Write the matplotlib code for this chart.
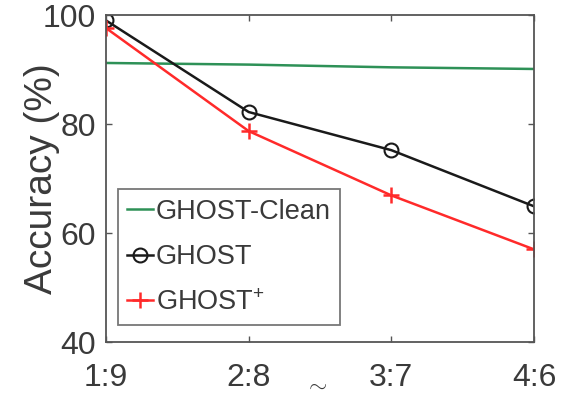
import matplotlib.pyplot as plt

plt.rcParams['font.family'] = ['Liberation Sans', 'DejaVu Sans']
plt.rcParams['mathtext.fontset'] = 'custom'
plt.rcParams['mathtext.rm'] = 'Liberation Sans'

ratios = ['1:9', '2:8', '3:7', '4:6']
ghost_clean = [91.2, 90.9, 90.4, 90.1]
ghost = [99.0, 82.2, 75.2, 64.9]
ghost_plus = [97.6, 78.7, 66.9, 57.0]

text_color = '#3a3a3a'

fig = plt.figure(figsize=(5.8, 3.97), dpi=100)
ax = fig.add_axes([0.1828, 0.1385, 0.7379, 0.8237])

x = range(len(ratios))
ax.plot(x, ghost_clean, color='#2e9157', lw=1.8, label='GHOST-Clean')
ax.plot(x, ghost, color='#1a1a1a', lw=1.8, marker='o', ms=10, mfc='none',
        mew=1.5, label='GHOST')
ax.plot(x, ghost_plus, color='#ff2a2a', lw=1.8, marker='+', ms=12,
        mew=1.8, label='GHOST$^{+}$')

ax.set_xlim(0, 3)
ax.set_ylim(40, 100)
ax.set_xticks(list(x))
ax.set_xticklabels(ratios)
ax.set_yticks([40, 60, 80, 100])
ax.tick_params(direction='in', top=True, right=True, length=4, width=1,
               colors='#555555', labelcolor=text_color, labelsize=23)
ax.tick_params(axis='x', pad=15)
ax.tick_params(axis='y', pad=7)
for s in ax.spines.values():
    s.set_color('#555555')
    s.set_linewidth(1.3)

ax.set_ylabel('Accuracy (%)', fontsize=28, color=text_color, labelpad=-12)

leg = ax.legend(loc='lower left', bbox_to_anchor=(0.028, 0.052), borderaxespad=0,
                fontsize=19.5, handlelength=0.95, handletextpad=0.1,
                borderpad=0.35, labelspacing=0.72, fancybox=False,
                frameon=True)
leg.get_frame().set_edgecolor('#555555')
leg.get_frame().set_linewidth(1.3)
for t in leg.get_texts():
    t.set_color(text_color)

# top of the x label, cut off by the bottom edge in the original
fig.text(316 / 580, 0.002, '$\\sim$', fontsize=17, color=text_color,
         ha='center', va='bottom')

fig.savefig('out.png', dpi=100)
